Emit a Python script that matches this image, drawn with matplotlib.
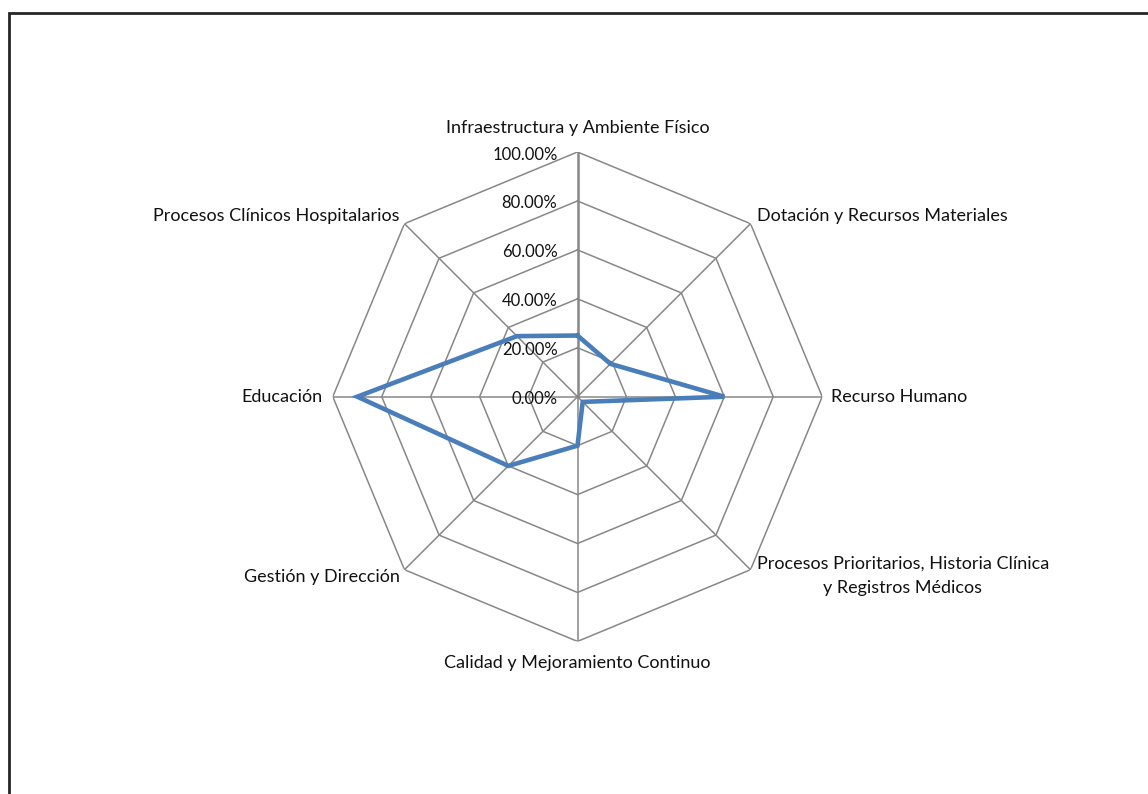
import numpy as np
import matplotlib
matplotlib.use("Agg")
import matplotlib.pyplot as plt
from matplotlib.patches import Rectangle

categories = [
    "Infraestructura y Ambiente Físico",
    "Dotación y Recursos Materiales",
    "Recurso Humano",
    "Procesos Prioritarios, Historia Clínica\ny Registros Médicos",
    "Calidad y Mejoramiento Continuo",
    "Gestión y Dirección",
    "Educación",
    "Procesos Clínicos Hospitalarios",
]
values = [25, 19, 60, 3, 20, 40, 90, 35]  # percent
ticks = [0, 20, 40, 60, 80, 100]

FONT = "Lato"
GRID = "#878787"
LINE = "#4a7ebb"

W, H = 1148, 794
fig = plt.figure(figsize=(W / 100, H / 100), dpi=100)

# center of the radar at (577.5, 396.7) px, outer radius 244.7 px
cx, cy, rad = 577.5, 396.7, 244.7
ax = fig.add_axes([(cx - rad) / W, (H - cy - rad) / H, 2 * rad / W, 2 * rad / H],
                  projection="polar")
ax.set_theta_zero_location("N")
ax.set_theta_direction(-1)
ax.set_ylim(0, 100)
ax.grid(False)
ax.spines["polar"].set_visible(False)
ax.set_xticks([])
ax.set_yticks([])
ax.patch.set_alpha(0)

n = len(categories)
theta = np.arange(n) * 2 * np.pi / n
closed = np.append(theta, theta[0])

# octagonal rings
for t in ticks[1:]:
    ax.plot(closed, [t] * (n + 1), color=GRID, lw=1.1, zorder=1)

# spokes
for i, th in enumerate(theta):
    ax.plot([th, th], [0, ticks[-1]], color=GRID, lw=1.8 if i == 0 else 1.1, zorder=1)

# value labels along the top spoke
for t in ticks:
    ax.annotate(f"{t:.2f}%", xy=(0, t), xytext=(-20, -2.5), textcoords="offset pixels",
                ha="right", va="center", fontsize=12, family=FONT, color="#111111")

# category labels
placements = [
    dict(xytext=(0, 16), ha="center", va="bottom"),
    dict(xytext=(6, 8), ha="left", va="center"),
    dict(xytext=(9, 0), ha="left", va="center"),
    dict(xytext=(6, 14), ha="left", va="top"),
    dict(xytext=(0, -14), ha="center", va="top"),
    dict(xytext=(-5, -7), ha="right", va="center"),
    dict(xytext=(-10, 0), ha="right", va="center"),
    dict(xytext=(-5, 8), ha="right", va="center"),
]
for th, lab, pl in zip(theta, categories, placements):
    ax.annotate(lab, xy=(th, ticks[-1]), textcoords="offset pixels",
                fontsize=13, family=FONT, color="#111111",
                multialignment="center", linespacing=1.6,
                annotation_clip=False, **pl)

# data series
ax.plot(closed, values + values[:1], color=LINE, lw=3.3, zorder=3,
        solid_joinstyle="miter")

# chart area border (only top and left visible)
fig.add_artist(Rectangle((8.5 / W, -0.2), 2, (H - 13) / H + 0.2,
                         transform=fig.transFigure, fill=False,
                         ec="#262626", lw=2))

fig.savefig("out.png", dpi=100)
